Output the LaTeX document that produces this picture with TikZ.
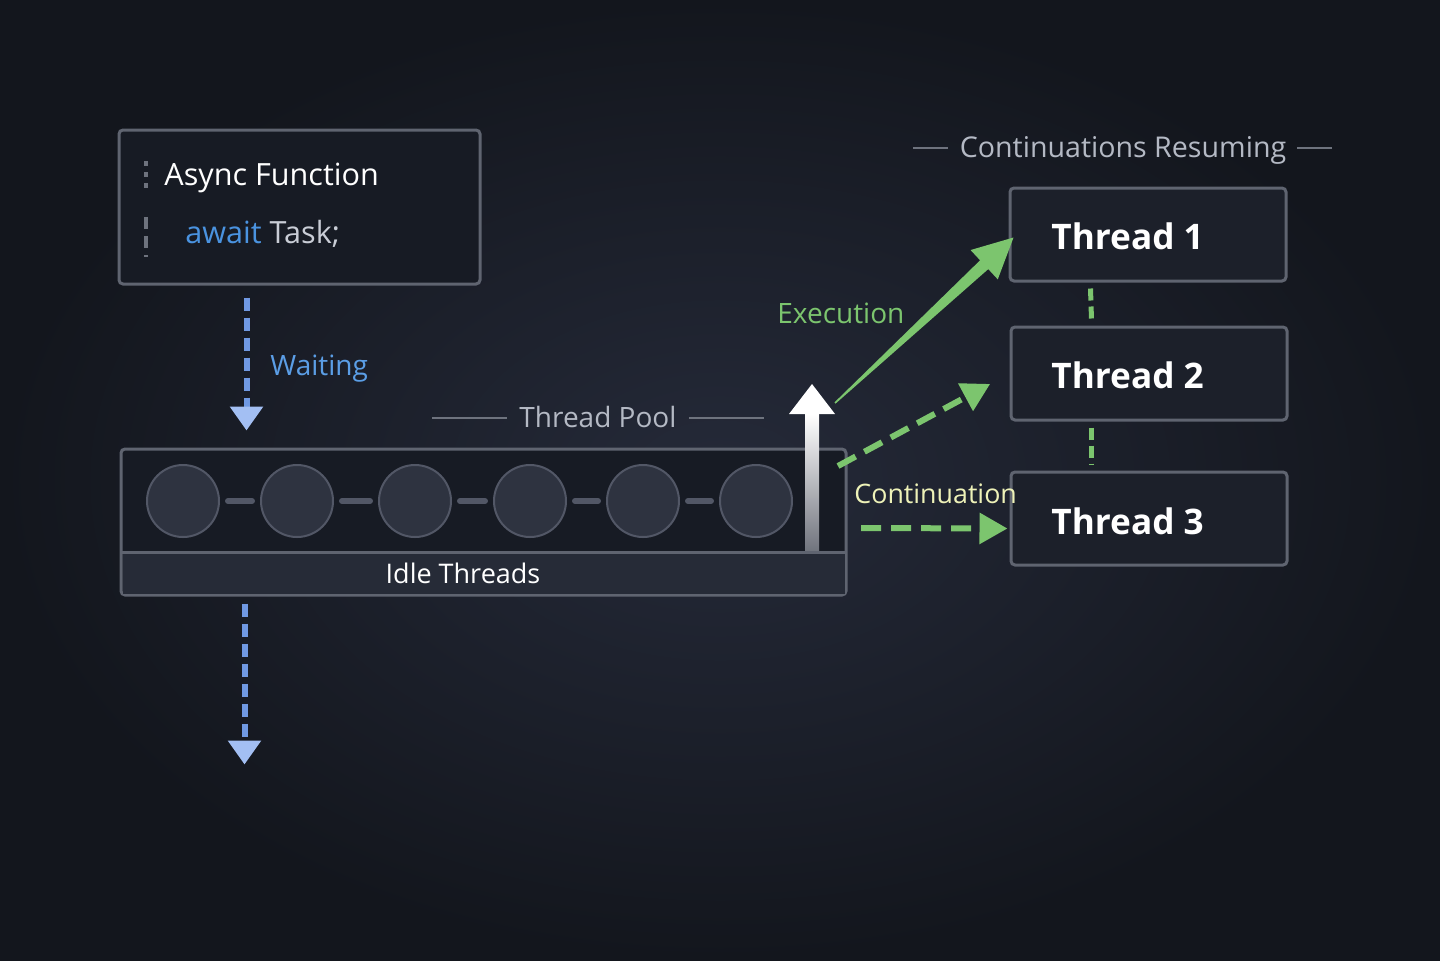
\documentclass[tikz,border=0pt]{standalone}
\usepackage{fontspec}
\setmainfont{Open Sans}
\usetikzlibrary{arrows.meta,calc,positioning}
\definecolor{bgin}{HTML}{252A39}
\definecolor{bgout}{HTML}{13161D}
\definecolor{boxfill}{HTML}{171B24}
\definecolor{thfill}{HTML}{1C202A}
\definecolor{footfill}{HTML}{262B37}
\definecolor{rim}{HTML}{5F6470}
\definecolor{labgray}{HTML}{B4B9C4}
\definecolor{rulegray}{HTML}{6E737E}
\definecolor{waitblue}{HTML}{5B9EE6}
\definecolor{kwblue}{HTML}{4A93E0}
\definecolor{codegray}{HTML}{C9CDD6}
\definecolor{arrowblue}{HTML}{7099E3}
\definecolor{tipblue}{HTML}{A3BFF3}
\definecolor{execgreen}{HTML}{7CC56E}
\definecolor{contyellow}{HTML}{EEF2B8}
\definecolor{idlefill}{HTML}{2E3340}
\definecolor{idlerim}{HTML}{525766}
\newcommand{\fs}[1]{\fontsize{#1}{#1}\selectfont}
\begin{document}
\begin{tikzpicture}[x=0.5pt,y=-0.5pt,
  panel/.style={draw=rim, line width=1.5pt, rounded corners=2pt, inner sep=0pt},
  txt/.style={inner sep=0pt},
  idle/.style={circle, draw=idlerim, line width=1pt, fill=idlefill, inner sep=0pt, minimum size=36pt},
  link/.style={draw=idlerim, line width=3pt, line cap=round},
  waitarrow/.style={draw=arrowblue, line width=3pt, dash pattern=on 6.5pt off 3.5pt,
    -{Triangle[width=16pt,length=12pt,color=tipblue]}},
  contarrow/.style={draw=execgreen, line width=3pt, dash pattern=on 10pt off 5pt,
    -{Triangle[width=15pt,length=14pt]}},
  chain/.style={draw=execgreen, line width=2.5pt, dash pattern=on 6pt off 3pt},
  tagline/.style={draw=rulegray, line width=0.6pt},
  thlabel/.style={txt, anchor=base west, text=white, font=\fs{17.6}\bfseries},
]
\useasboundingbox (0,0) rectangle (1440,960);
\shade[inner color=bgin, outer color=bgout] (0,0) rectangle (1440,960);

% async function
\node[panel, fill=boxfill, minimum width=180.5pt, minimum height=77pt] (async) at (299.5,207) {};
\node[txt, anchor=base west, text=white, font=\fs{15.3}] (asynctxt) at (164,185) {Async Function};
\node[txt, anchor=base west, font=\fs{15.3}] (awaittxt) at (185,243) {\textcolor{kwblue}{await} \textcolor{codegray}{Task;}};
\draw[rulegray, line width=2pt, dash pattern=on 2.5pt off 3pt] (146,161) -- (146,190);
\draw[rulegray, line width=2pt, dash pattern=on 6pt off 3.5pt] (146,217) -- (146,257);

% thread pool
\node[panel, fill=boxfill, minimum width=362.5pt, minimum height=73pt] (pool) at (483.5,522) {};
\fill[footfill] ($(pool.south west)+(3,-3)$) rectangle ($(pool.south east)+(-3,-43)$);
\draw[rim, line width=1.2pt] ($(pool.south west)+(2,-44)$) -- ($(pool.south east)+(-2,-44)$);
\node[txt, text=white, anchor=base, font=\fs{13.5}] (idletxt) at (463,583) {Idle Threads};
\foreach \i/\x in {1/183,2/297,3/415,4/530,5/643,6/756}
  \node[idle] (t\i) at (\x,501) {};
\foreach \a/\b in {1/2,2/3,3/4,4/5,5/6}
  \draw[link] ($(t\a.east)+(8,0)$) -- ($(t\b.west)+(-8,0)$);

\node[txt, text=labgray, anchor=base, font=\fs{14}] (pooltxt) at (598,427) {Thread Pool};
\draw[tagline] (432,418) -- (507,418);
\draw[tagline] (689,418) -- (764,418);

% waiting
\coordinate (w0) at ($(async.south west)+(129,12)$);
\coordinate (w1) at ($(pool.north west)+(127,-17)$);
\draw[waitarrow] (w0) -- (w1);
\node[txt, text=waitblue, anchor=base west, font=\fs{14}] (waittxt) at (270,375) {Waiting};
\coordinate (w2) at ($(pool.south west)+(125,7)$);
\coordinate (w3) at ($(pool.south west)+(125,168)$);
\draw[waitarrow] (w2) -- (w3);

% threads
\node[panel, fill=thfill, minimum width=138pt, minimum height=46.5pt] (th1) at (1148,234.5) {};
\node[panel, fill=thfill, minimum width=138pt, minimum height=46.5pt] (th2) at (1149,373.5) {};
\node[panel, fill=thfill, minimum width=138pt, minimum height=46.5pt] (th3) at (1149,518.5) {};
\node[thlabel] (th1txt) at (1051,249) {Thread 1};
\node[thlabel] (th2txt) at (1051,388) {Thread 2};
\node[thlabel] (th3txt) at (1051,534) {Thread 3};
\draw[chain] ($(th1.south west)+(82,6)$) -- ($(th2.north west)+(82,-6)$);
\draw[chain] ($(th2.south west)+(82,6)$) -- ($(th3.north west)+(82,-6)$);

\node[txt, text=labgray, anchor=base, font=\fs{14.3}] (resumetxt) at (1123,157) {Continuations Resuming};
\draw[tagline] (913,148) -- (948,148);
\draw[tagline] (1297,148) -- (1332,148);

% white rising arrow
\coordinate (up0) at (812,550);
\coordinate (up1) at (812,384);
\shade[top color=white, bottom color=white!35!bgin] ($(up0)+(-7,0)$) rectangle ($(up1)+(7,30)$);
\fill[white] ($(up1)+(-23,30)$) -- (up1) -- ($(up1)+(23,30)$) -- cycle;

% execution
\coordinate (ex0) at (835,403);
\coordinate (ex1) at ($(th1.west)+(5,3)$);
\coordinate (exh) at ($(ex1)!20pt!(ex0)$);
\fill[execgreen] ($(ex0)!0.4pt!90:(ex1)$) -- ($(exh)!3pt!90:(ex1)$) -- ($(exh)!10pt!90:(ex1)$)
  -- (ex1) -- ($(exh)!10pt!-90:(ex1)$) -- ($(exh)!3pt!-90:(ex1)$) -- ($(ex0)!0.4pt!-90:(ex1)$) -- cycle;
\node[txt, text=execgreen, anchor=base west, font=\fs{14}] (exectxt) at (777,323) {Execution};

% continuation
\coordinate (c0) at (838,466);
\draw[contarrow, shorten >=11pt] (c0) -- (th2.west);
\coordinate (c1) at (861,528);
\coordinate (c2) at ($(th3.west)+(-2,10)$);
\draw[contarrow] (c1) -- (c2);
\node[txt, text=contyellow, anchor=base west, font=\fs{13.4}] (conttxt) at (854,503) {Continuation};
\end{tikzpicture}
\end{document}
